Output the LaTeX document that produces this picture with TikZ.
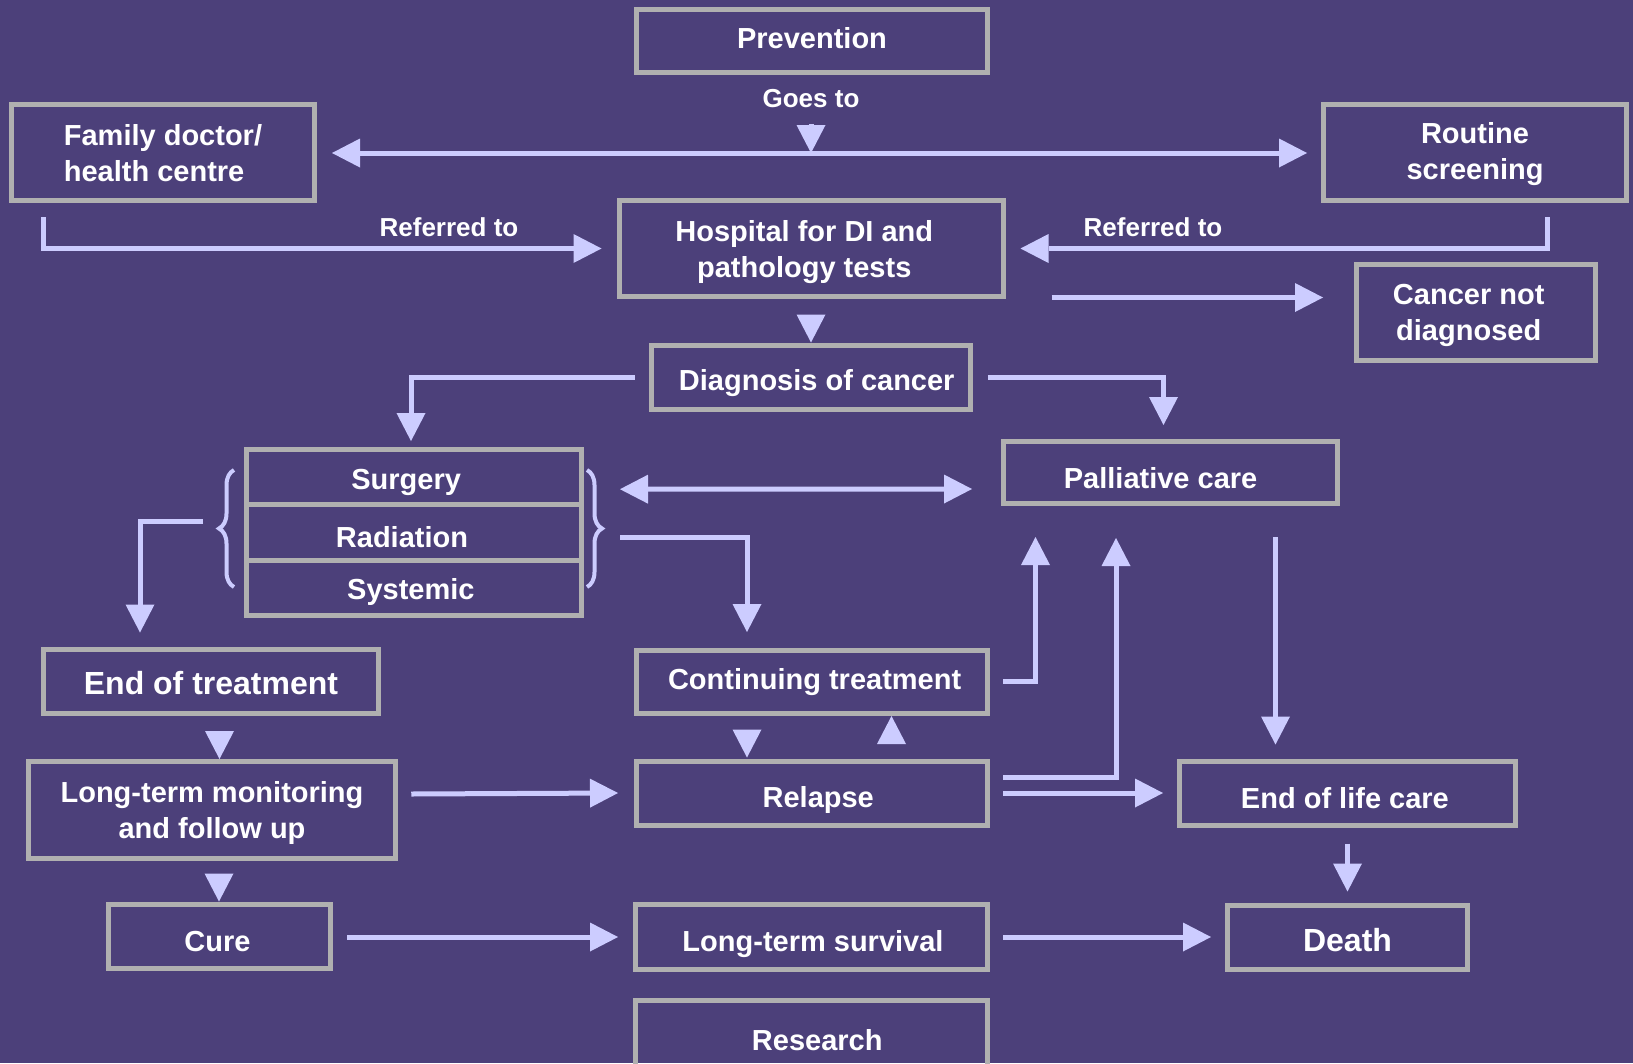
\documentclass[tikz,border=0pt]{standalone}
\usepackage{fontspec}
\setmainfont{Liberation Sans}
\usetikzlibrary{arrows.meta,calc,decorations.pathreplacing}
\definecolor{bg}{RGB}{76,64,122}
\definecolor{bordergray}{RGB}{176,176,176}
\definecolor{lav}{RGB}{204,204,255}
\newcommand\kx[1]{\kern#1pt\relax}
\begin{document}
\begin{tikzpicture}[x=1pt,y=-1pt,
  box/.style={draw=bordergray, line width=5pt, text=white, font=\bfseries\fontsize{29}{36}\selectfont, align=center, inner sep=0pt, text depth=0pt},
  bigbox/.style={box, font=\bfseries\fontsize{32}{38}\selectfont},
  arr/.style={draw=lav, line width=5pt, -{Triangle[length=28pt,width=29pt,line width=0pt]}},
  darr/.style={draw=lav, line width=5pt, {Triangle[length=28pt,width=29pt,line width=0pt]}-{Triangle[length=28pt,width=29pt,line width=0pt]}},
  lbl/.style={text=white, font=\bfseries\fontsize{26}{31}\selectfont, inner sep=0pt, text depth=0pt},
  brc/.style={draw=lav, line width=4pt, decorate, decoration={brace, amplitude=15pt}}
]
\useasboundingbox (0,0) rectangle (1633,1063);
\fill[bg] (0,0) rectangle (1633,1063);

% boxes
\node[box, minimum width=351pt, minimum height=63pt, text height=14.6pt] (prev) at (812,41) {Prevention};
\node[box, align=left, minimum width=303pt, minimum height=96pt] (fam) at (163,152.5) {Family doctor/\\health centre};
\node[box, minimum width=303pt, minimum height=96pt, text height=53pt] (rout) at (1475,152.5) {Routine\\screening};
\node[box, minimum width=384pt, minimum height=96pt] (hosp) at (811,248.5) {\kx{-13.5}Hospital for DI and\\\kx{-13.5}pathology tests};
\node[box, minimum width=239pt, minimum height=96pt] (cnd) at (1476,312.5) {\kx{-14.6}Cancer not\\\kx{-14.6}diagnosed};
\node[box, minimum width=319.5pt, minimum height=64pt, text height=27pt] (diag) at (811,377) {\kx{11.5}Diagnosis of cancer};
\node[box, minimum width=334pt, minimum height=62pt, text height=31.2pt] (pall) at (1170.5,472.5) {\kx{-19.8}Palliative care};
\node[box, minimum width=335pt, minimum height=55.33pt, text height=25pt] (surg) at (414,477.2) {\kx{-15.6}Surgery};
\node[box, minimum width=335pt, minimum height=55.33pt, text height=29.1pt] (rad) at (414,532.5) {\kx{-24}Radiation};
\node[box, minimum width=335pt, minimum height=55.33pt, text height=22.9pt] (sys) at (414,587.8) {\kx{-6.2}Systemic};
\node[bigbox, minimum width=335pt, minimum height=64pt, text height=27.1pt] (eot) at (211,681) {End of treatment};
\node[box, minimum width=351pt, minimum height=63pt, text height=14.6pt] (cont) at (812,682) {\kx{5.2}Continuing treatment};
\node[box, minimum width=367.5pt, minimum height=97pt] (ltm) at (212,810) {Long-term monitoring\\and follow up};
\node[box, minimum width=351pt, minimum height=64pt, text height=29.1pt] (rel) at (812,793) {\kx{12.5}Relapse};
\node[box, minimum width=336pt, minimum height=64pt, text height=31.2pt] (eol) at (1347.5,793) {\kx{-5.2}End of life care};
\node[box, minimum width=222pt, minimum height=64pt, text height=31.2pt] (cure) at (219,936) {\kx{-3}Cure};
\node[box, minimum width=352pt, minimum height=65pt, text height=29.1pt] (lts) at (811.5,937) {\kx{3}Long-term survival};
\node[bigbox, minimum width=240pt, minimum height=64pt, text height=29.1pt] (death) at (1347.5,937) {Death};
\node[box, minimum width=352pt, minimum height=77pt, text height=22.9pt] (res) at (811.5,1039) {\kx{11.5}Research};

% labels
\node[lbl] (goes) at (811,98) {Goes to};
\node[lbl] (ref1) at (449,227) {Referred to};
\node[lbl] (ref2) at (1153,227) {Referred to};
\coordinate (mid) at (811,153);

% braces
\draw[brc] (234,587) -- (234,470);
\draw[brc] (587,470) -- (587,587);

% connectors
\draw[arr] ($(goes.south)+(0,17)$) -- (mid);
\draw[darr] ($(fam.east)+(15,0.5)$) -- ($(rout.west)+(-14,0.5)$);
\draw[arr] ($(fam.south west)+(34,14)$) |- ($(hosp.west)+(-15,0)$);
\draw[arr] ($(rout.south east)+(-82,14)$) |- ($(hosp.east)+(15,0)$);
\draw[arr] ($(hosp.south east)+(46,-1.5)$) -- ($(cnd.west)+(-31,-15)$);
\draw[arr] ($(diag.north)+(0,-27)$) -- (diag.north);
\draw[arr] ($(diag.west)+(-14,0)$) -| ($(surg.north)+(-3,-6)$);
\draw[arr] ($(diag.east)+(14.5,0)$) -| ($(pall.north)+(-7,-14)$);
\draw[darr] ($(surg.east)+(36,12)$) -- ($(pall.west)+(-29,16.5)$);
\draw[arr] ($(rad.west)+(-41,-11)$) -| ($(eot.north)+(-71,-14)$);
\draw[arr] ($(rad.east)+(36,4.5)$) -| ($(cont.north)+(-65,-16)$);
\draw[arr] ($(cont.east)+(13,-1)$) -| ($(pall.south)+(-135,31)$);
\draw[arr] ($(rel.east)+(13,-16)$) -| ($(pall.south)+(-54.5,32)$);
\draw[arr] ($(rel.east)+(13,0)$) -- ($(eol.west)+(-14,0)$);
\draw[arr] ($(pall.south)+(105,31)$) -- ($(eol.north)+(-72,-14)$);
\draw[arr] ($(ltm.north)+(7.5,-27)$) -- ($(ltm.north)+(7.5,0)$);
\draw[arr] ($(ltm.east)+(13,-16)$) -- ($(rel.west)+(-16,0)$);
\draw[arr] ($(rel.north)+(-65,-27)$) -- ($(rel.north)+(-65,-1)$);
\draw[arr] ($(cont.south)+(79.5,27)$) -- ($(cont.south)+(79.5,0)$);
\draw[arr] ($(cure.north)+(0,-26)$) -- (cure.north);
\draw[arr] ($(eol.south)+(0,16)$) -- ($(death.north)+(0,-11)$);
\draw[arr] ($(cure.east)+(14.5,1)$) -- ($(lts.west)+(-15,0)$);
\draw[arr] ($(lts.east)+(13,0)$) -- ($(death.west)+(-14,0)$);
\end{tikzpicture}
\end{document}
